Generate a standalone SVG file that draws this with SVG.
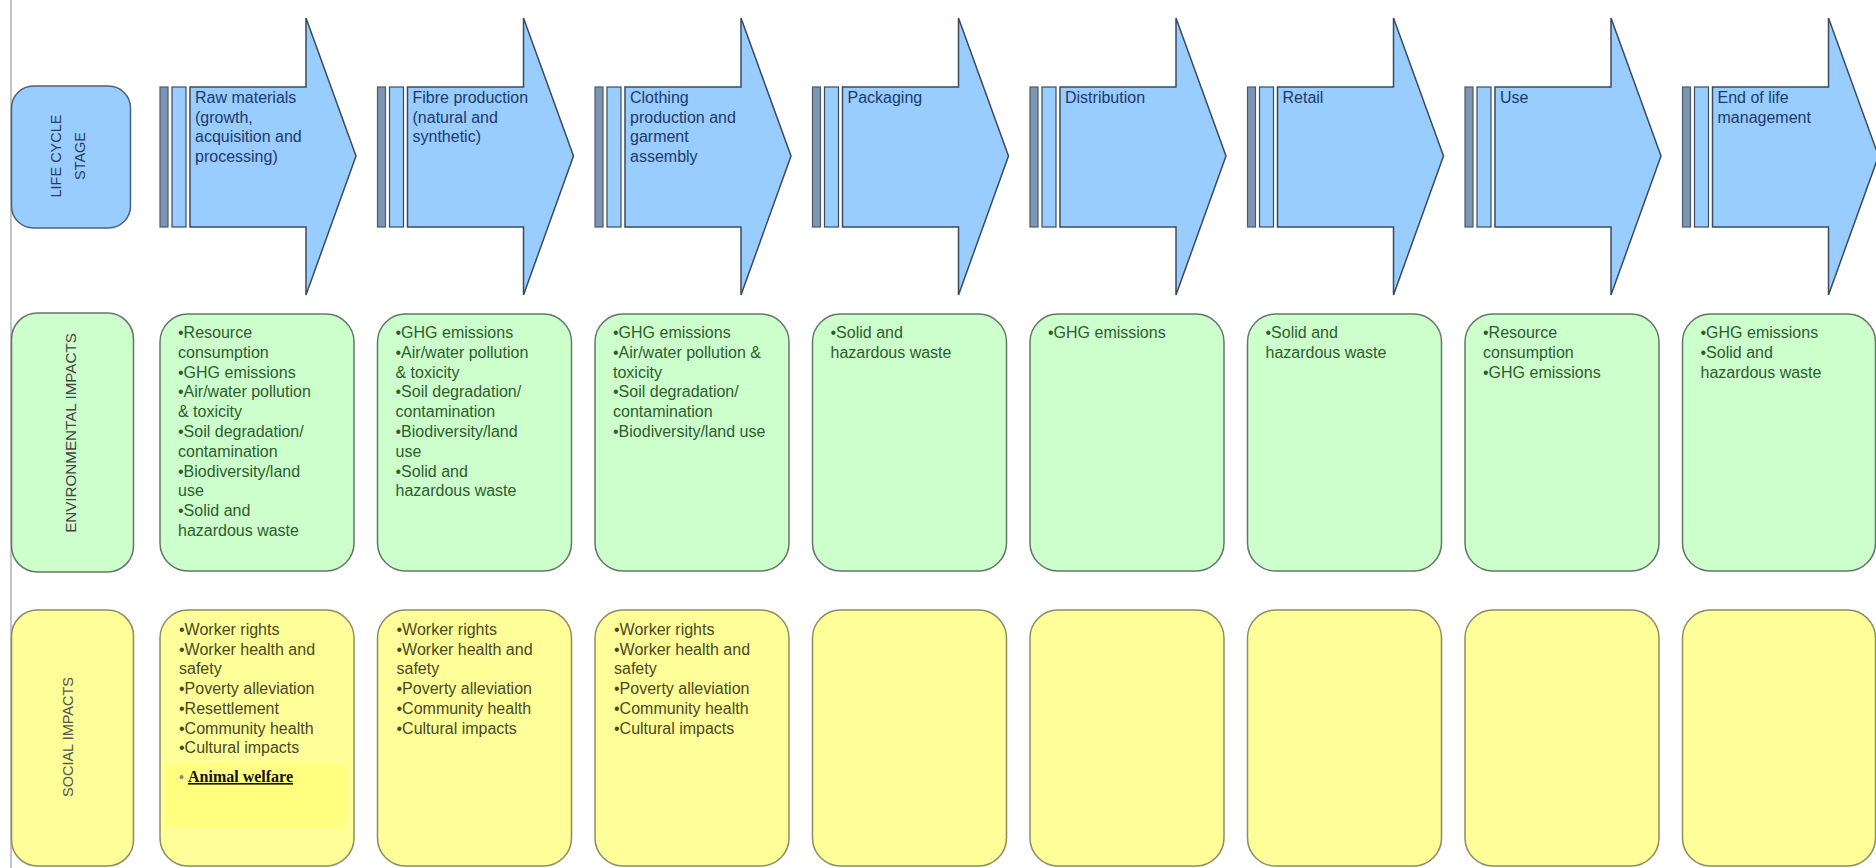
<svg xmlns="http://www.w3.org/2000/svg" xmlns:xlink="http://www.w3.org/1999/xlink" width="1876" height="868" viewBox="0 0 1876 868">
<style>
  .arrow { fill: #99ccff; stroke: #3b4a5c; stroke-width: 1.5; stroke-linejoin: miter; }
  .bar-dark { fill: #7d95b0; stroke: #4a5a6c; stroke-width: 1.2; }
  .bar-light { fill: #99ccff; stroke: #3b4a5c; stroke-width: 1.2; }
  .stage-head { fill: #99ccff; stroke: #4e6276; stroke-width: 1.5; }
  .env { fill: #ccffcc; stroke: #66756a; stroke-width: 1.5; }
  .soc { fill: #ffff99; stroke: #8d8c62; stroke-width: 1.5; }
  .t { font-family: "Liberation Sans", Arial, sans-serif; font-size: 16px; }
  .ta { fill: #1d3a6a; }
  .te { fill: #2e5c2e; }
  .ts { fill: #4a4822; }
  .lbl { font-family: "Liberation Sans", Arial, sans-serif; font-size: 14.5px; text-anchor: middle; }
</style>
<defs>
  <path id="arrowShape" d="M30,87 H146 V18 L196,156 L146,295 V227 H30 Z"/>
</defs>

<line x1="11" y1="0" x2="11" y2="868" stroke="#c4c4c4" stroke-width="2"/>

<!-- Row headers -->
<g id="hdr-stage">
  <rect class="stage-head" x="11.5" y="86" width="119" height="142" rx="22"/>
  <g class="lbl" fill="#2a3c5e">
    <text transform="translate(61,156) rotate(-90)">LIFE CYCLE</text>
    <text transform="translate(85,156) rotate(-90)">STAGE</text>
  </g>
</g>
<g id="hdr-env">
  <rect class="env" x="11.5" y="313" width="122" height="259" rx="26"/>
  <text class="lbl" fill="#444" style="font-size:15.2px" transform="translate(76,433) rotate(-90)">ENVIRONMENTAL IMPACTS</text>
</g>
<g id="hdr-soc">
  <rect class="soc" x="11.5" y="610" width="122" height="256" rx="26"/>
  <text class="lbl" fill="#555" transform="translate(73,737) rotate(-90)">SOCIAL IMPACTS</text>
</g>

<!-- Stage arrows -->
<g id="stage-1" transform="translate(160,0)">
  <rect class="bar-dark" x="0" y="87" width="8" height="140"/>
  <rect class="bar-light" x="12" y="87" width="14" height="140"/>
  <use xlink:href="#arrowShape" class="arrow"/>
  <text class="t ta" x="35" y="103">Raw materials<tspan x="35" dy="19.5">(growth,</tspan><tspan x="35" dy="19.5">acquisition and</tspan><tspan x="35" dy="19.5">processing)</tspan></text>
</g>
<g id="stage-2" transform="translate(377.5,0)">
  <rect class="bar-dark" x="0" y="87" width="8" height="140"/>
  <rect class="bar-light" x="12" y="87" width="14" height="140"/>
  <use xlink:href="#arrowShape" class="arrow"/>
  <text class="t ta" x="35" y="103">Fibre production<tspan x="35" dy="19.5">(natural and</tspan><tspan x="35" dy="19.5">synthetic)</tspan></text>
</g>
<g id="stage-3" transform="translate(595,0)">
  <rect class="bar-dark" x="0" y="87" width="8" height="140"/>
  <rect class="bar-light" x="12" y="87" width="14" height="140"/>
  <use xlink:href="#arrowShape" class="arrow"/>
  <text class="t ta" x="35" y="103">Clothing<tspan x="35" dy="19.5">production and</tspan><tspan x="35" dy="19.5">garment</tspan><tspan x="35" dy="19.5">assembly</tspan></text>
</g>
<g id="stage-4" transform="translate(812.5,0)">
  <rect class="bar-dark" x="0" y="87" width="8" height="140"/>
  <rect class="bar-light" x="12" y="87" width="14" height="140"/>
  <use xlink:href="#arrowShape" class="arrow"/>
  <text class="t ta" x="35" y="103">Packaging</text>
</g>
<g id="stage-5" transform="translate(1030,0)">
  <rect class="bar-dark" x="0" y="87" width="8" height="140"/>
  <rect class="bar-light" x="12" y="87" width="14" height="140"/>
  <use xlink:href="#arrowShape" class="arrow"/>
  <text class="t ta" x="35" y="103">Distribution</text>
</g>
<g id="stage-6" transform="translate(1247.5,0)">
  <rect class="bar-dark" x="0" y="87" width="8" height="140"/>
  <rect class="bar-light" x="12" y="87" width="14" height="140"/>
  <use xlink:href="#arrowShape" class="arrow"/>
  <text class="t ta" x="35" y="103">Retail</text>
</g>
<g id="stage-7" transform="translate(1465,0)">
  <rect class="bar-dark" x="0" y="87" width="8" height="140"/>
  <rect class="bar-light" x="12" y="87" width="14" height="140"/>
  <use xlink:href="#arrowShape" class="arrow"/>
  <text class="t ta" x="35" y="103">Use</text>
</g>
<g id="stage-8" transform="translate(1682.5,0)">
  <rect class="bar-dark" x="0" y="87" width="8" height="140"/>
  <rect class="bar-light" x="12" y="87" width="14" height="140"/>
  <use xlink:href="#arrowShape" class="arrow"/>
  <text class="t ta" x="35" y="103">End of life<tspan x="35" dy="19.5">management</tspan></text>
</g>

<!-- Environmental impacts -->
<g id="env-1" transform="translate(160,0)">
  <rect class="env" x="0" y="314" width="194" height="257" rx="28"/>
  <text class="t te" x="18" y="338">•Resource<tspan x="18" dy="19.8">consumption</tspan><tspan x="18" dy="19.8">•GHG emissions</tspan><tspan x="18" dy="19.8">•Air/water pollution</tspan><tspan x="18" dy="19.8">&amp; toxicity</tspan><tspan x="18" dy="19.8">•Soil degradation/</tspan><tspan x="18" dy="19.8">contamination</tspan><tspan x="18" dy="19.8">•Biodiversity/land</tspan><tspan x="18" dy="19.8">use</tspan><tspan x="18" dy="19.8">•Solid and</tspan><tspan x="18" dy="19.8">hazardous waste</tspan></text>
</g>
<g id="env-2" transform="translate(377.5,0)">
  <rect class="env" x="0" y="314" width="194" height="257" rx="28"/>
  <text class="t te" x="18" y="338">•GHG emissions<tspan x="18" dy="19.8">•Air/water pollution</tspan><tspan x="18" dy="19.8">&amp; toxicity</tspan><tspan x="18" dy="19.8">•Soil degradation/</tspan><tspan x="18" dy="19.8">contamination</tspan><tspan x="18" dy="19.8">•Biodiversity/land</tspan><tspan x="18" dy="19.8">use</tspan><tspan x="18" dy="19.8">•Solid and</tspan><tspan x="18" dy="19.8">hazardous waste</tspan></text>
</g>
<g id="env-3" transform="translate(595,0)">
  <rect class="env" x="0" y="314" width="194" height="257" rx="28"/>
  <text class="t te" x="18" y="338">•GHG emissions<tspan x="18" dy="19.8">•Air/water pollution &amp;</tspan><tspan x="18" dy="19.8">toxicity</tspan><tspan x="18" dy="19.8">•Soil degradation/</tspan><tspan x="18" dy="19.8">contamination</tspan><tspan x="18" dy="19.8">•Biodiversity/land use</tspan></text>
</g>
<g id="env-4" transform="translate(812.5,0)">
  <rect class="env" x="0" y="314" width="194" height="257" rx="28"/>
  <text class="t te" x="18" y="338">•Solid and<tspan x="18" dy="19.8">hazardous waste</tspan></text>
</g>
<g id="env-5" transform="translate(1030,0)">
  <rect class="env" x="0" y="314" width="194" height="257" rx="28"/>
  <text class="t te" x="18" y="338">•GHG emissions</text>
</g>
<g id="env-6" transform="translate(1247.5,0)">
  <rect class="env" x="0" y="314" width="194" height="257" rx="28"/>
  <text class="t te" x="18" y="338">•Solid and<tspan x="18" dy="19.8">hazardous waste</tspan></text>
</g>
<g id="env-7" transform="translate(1465,0)">
  <rect class="env" x="0" y="314" width="194" height="257" rx="28"/>
  <text class="t te" x="18" y="338">•Resource<tspan x="18" dy="19.8">consumption</tspan><tspan x="18" dy="19.8">•GHG emissions</tspan></text>
</g>
<g id="env-8" transform="translate(1682.5,0)">
  <rect class="env" x="0" y="314" width="193" height="257" rx="28"/>
  <text class="t te" x="18" y="338">•GHG emissions<tspan x="18" dy="19.8">•Solid and</tspan><tspan x="18" dy="19.8">hazardous waste</tspan></text>
</g>

<!-- Social impacts -->
<g id="soc-1" transform="translate(160,0)">
  <rect class="soc" x="0" y="610" width="194" height="256" rx="28"/>
  <rect x="5" y="763" width="180" height="65" fill="#ffff80"/>
  <text class="t ts" x="19" y="635">•Worker rights<tspan x="19" dy="19.7">•Worker health and</tspan><tspan x="19" dy="19.7">safety</tspan><tspan x="19" dy="19.7">•Poverty alleviation</tspan><tspan x="19" dy="19.7">•Resettlement</tspan><tspan x="19" dy="19.7">•Community health</tspan><tspan x="19" dy="19.7">•Cultural impacts</tspan></text>
  <text x="19" y="782" font-family="'Liberation Sans', Arial, sans-serif" font-size="14" fill="#8a8a6a">•</text>
  <text x="28" y="782" font-family="'Liberation Serif', 'Times New Roman', serif" font-size="16" font-weight="bold" fill="#111" text-decoration="underline">Animal welfare</text>
</g>
<g id="soc-2" transform="translate(377.5,0)">
  <rect class="soc" x="0" y="610" width="194" height="256" rx="28"/>
  <text class="t ts" x="19" y="635">•Worker rights<tspan x="19" dy="19.7">•Worker health and</tspan><tspan x="19" dy="19.7">safety</tspan><tspan x="19" dy="19.7">•Poverty alleviation</tspan><tspan x="19" dy="19.7">•Community health</tspan><tspan x="19" dy="19.7">•Cultural impacts</tspan></text>
</g>
<g id="soc-3" transform="translate(595,0)">
  <rect class="soc" x="0" y="610" width="194" height="256" rx="28"/>
  <text class="t ts" x="19" y="635">•Worker rights<tspan x="19" dy="19.7">•Worker health and</tspan><tspan x="19" dy="19.7">safety</tspan><tspan x="19" dy="19.7">•Poverty alleviation</tspan><tspan x="19" dy="19.7">•Community health</tspan><tspan x="19" dy="19.7">•Cultural impacts</tspan></text>
</g>
<g id="soc-4" transform="translate(812.5,0)">
  <rect class="soc" x="0" y="610" width="194" height="256" rx="28"/>
</g>
<g id="soc-5" transform="translate(1030,0)">
  <rect class="soc" x="0" y="610" width="194" height="256" rx="28"/>
</g>
<g id="soc-6" transform="translate(1247.5,0)">
  <rect class="soc" x="0" y="610" width="194" height="256" rx="28"/>
</g>
<g id="soc-7" transform="translate(1465,0)">
  <rect class="soc" x="0" y="610" width="194" height="256" rx="28"/>
</g>
<g id="soc-8" transform="translate(1682.5,0)">
  <rect class="soc" x="0" y="610" width="193" height="256" rx="28"/>
</g>

<g id="connectors"></g>
</svg>
